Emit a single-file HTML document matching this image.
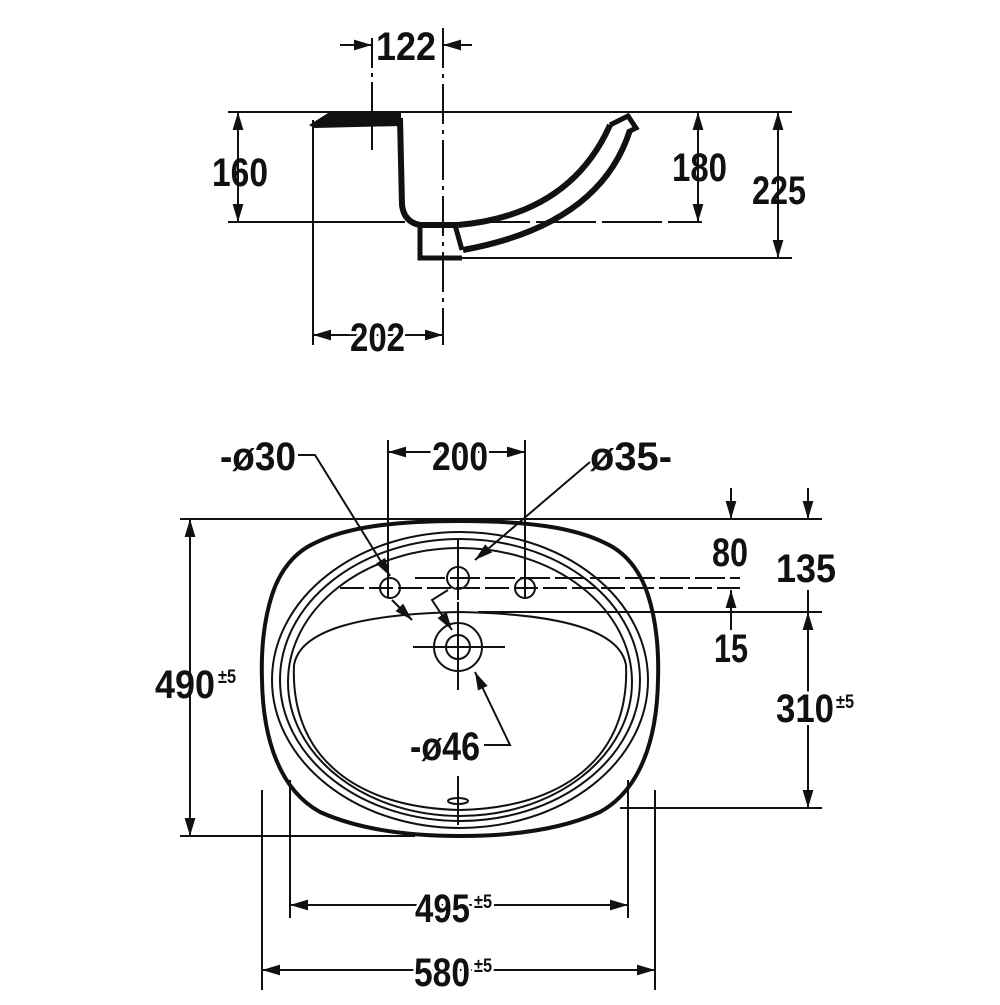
<!DOCTYPE html>
<html><head><meta charset="utf-8"><style>
html,body{margin:0;padding:0;background:#fff;}
text{font-family:"Liberation Sans",sans-serif;font-weight:bold;fill:#111;}
.w{stroke:#fff;stroke-width:6px;paint-order:stroke;}
</style></head><body>
<svg width="1000" height="1000" viewBox="0 0 1000 1000" xmlns="http://www.w3.org/2000/svg">
<defs>
<marker id="a" viewBox="0 0 10 10" refX="10" refY="5" markerWidth="18" markerHeight="18" markerUnits="userSpaceOnUse" orient="auto-start-reverse"><path d="M0,2 L10,5 L0,8 z" fill="#111"/></marker>
</defs>
<g stroke="#111" stroke-width="2" fill="none">
<line x1="228" y1="112" x2="792" y2="112"/>
<line x1="228" y1="222" x2="405" y2="222"/>
<line x1="470" y1="222" x2="702" y2="222" stroke-dasharray="60 6"/>
<line x1="430" y1="258" x2="792" y2="258"/>
<line x1="313" y1="120" x2="313" y2="345"/>
<line x1="443" y1="28" x2="443" y2="345" stroke-dasharray="40 6 4 6"/>
<line x1="372" y1="38" x2="372" y2="150" stroke-dasharray="30 5 4 5"/>
<line x1="340" y1="45" x2="372" y2="45" marker-end="url(#a)"/>
<line x1="472" y1="45" x2="443" y2="45" marker-end="url(#a)"/>
<line x1="238" y1="112" x2="238" y2="222" marker-start="url(#a)" marker-end="url(#a)"/>
<line x1="698" y1="112" x2="698" y2="222" marker-start="url(#a)" marker-end="url(#a)"/>
<line x1="778" y1="112" x2="778" y2="258" marker-start="url(#a)" marker-end="url(#a)"/>
<line x1="313" y1="335" x2="443" y2="335" marker-start="url(#a)" marker-end="url(#a)"/>
<path d="M311,125 L330,113 L400,113 L400,125 L315,127 z" fill="#111"/>
<path d="M400,118 L402,205 Q404,222 420,225 L458,225" stroke-width="6"/>
<path d="M420,226 L420,258 L462,258" stroke-width="5"/>
<path d="M458,225 Q570,215 610,125" stroke-width="6"/>
<path d="M463,250 Q600,225 630,130" stroke-width="6"/>
<path d="M610,125 L628,116 L636,128 L628,132" stroke-width="5"/>
<line x1="455" y1="225" x2="462" y2="250" stroke-width="5"/>
<line x1="180" y1="519" x2="822" y2="519"/>
<line x1="180" y1="836" x2="415" y2="836"/>
<line x1="478" y1="612" x2="822" y2="612"/>
<line x1="620" y1="808" x2="822" y2="808"/>
<line x1="340" y1="588" x2="740" y2="588" stroke-dasharray="24 5"/>
<line x1="415" y1="578" x2="740" y2="578" stroke-dasharray="30 5"/>
<line x1="388" y1="440" x2="388" y2="598"/>
<line x1="525" y1="440" x2="525" y2="598"/>
<line x1="262" y1="790" x2="262" y2="990"/>
<line x1="655" y1="790" x2="655" y2="990"/>
<line x1="290" y1="780" x2="290" y2="918"/>
<line x1="628" y1="780" x2="628" y2="918"/>
<line x1="388" y1="452" x2="525" y2="452" marker-start="url(#a)" marker-end="url(#a)"/>
<line x1="190" y1="519" x2="190" y2="836" marker-start="url(#a)" marker-end="url(#a)"/>
<line x1="731" y1="488" x2="731" y2="519" marker-end="url(#a)"/>
<line x1="731" y1="630" x2="731" y2="590" marker-end="url(#a)"/>
<line x1="808" y1="488" x2="808" y2="519" marker-end="url(#a)"/>
<line x1="808" y1="590" x2="808" y2="612"/>
<line x1="808" y1="612" x2="808" y2="808" marker-start="url(#a)" marker-end="url(#a)"/>
<line x1="290" y1="905" x2="628" y2="905" marker-start="url(#a)" marker-end="url(#a)"/>
<line x1="262" y1="970" x2="655" y2="970" marker-start="url(#a)" marker-end="url(#a)"/>
<path d="M460,521 C530,521 575,528 605,543 C625,552 640,570 648,595 C656,620 659,650 658,680 C657,740 640,790 600,812 C560,830 510,836 460,836 C410,836 360,830 320,812 C280,790 263,740 262,680 C261,650 264,620 272,595 C280,570 295,552 315,543 C345,528 390,521 460,521 z" stroke-width="4"/>
<ellipse cx="460" cy="680" rx="188" ry="148"/>
<ellipse cx="460" cy="680" rx="180" ry="141"/>
<ellipse cx="460" cy="682" rx="172" ry="134"/>
<path d="M294,665 C300,630 360,614 460,612 C560,614 620,630 626,665 C630,760 560,808 460,810 C360,808 290,760 294,665 z"/>
<circle cx="390" cy="588" r="10"/>
<circle cx="458" cy="578" r="11"/>
<circle cx="525" cy="588" r="10"/>
<circle cx="458" cy="647" r="24"/>
<circle cx="458" cy="647" r="12"/>
<line x1="413" y1="647" x2="505" y2="647"/><line x1="458" y1="602" x2="458" y2="690"/>
<line x1="458" y1="540" x2="458" y2="600"/>
<line x1="458" y1="776" x2="458" y2="825"/>
<ellipse cx="458" cy="801" rx="10" ry="3"/>
<polyline points="298,455 315,455 390,576" marker-end="url(#a)"/>
<line x1="392" y1="600" x2="412" y2="620" marker-end="url(#a)"/>
<line x1="590" y1="462" x2="475" y2="560" marker-end="url(#a)"/>
<polyline points="448,590 432,600 452,630" marker-end="url(#a)"/>
<polyline points="484,745 510,745 475,672" marker-end="url(#a)"/>
</g>
<g font-size="40">
<text class="w" x="376" y="60" textLength="60" lengthAdjust="spacingAndGlyphs">122</text>
<text x="212" y="186" textLength="56" lengthAdjust="spacingAndGlyphs">160</text>
<text x="672" y="181" textLength="55" lengthAdjust="spacingAndGlyphs">180</text>
<text x="752" y="204" textLength="54" lengthAdjust="spacingAndGlyphs">225</text>
<text class="w" x="350" y="351" textLength="55" lengthAdjust="spacingAndGlyphs">202</text>
<text x="220" y="470" textLength="76" lengthAdjust="spacingAndGlyphs">-ø30</text>
<text class="w" x="432" y="470" textLength="56" lengthAdjust="spacingAndGlyphs">200</text>
<text x="590" y="470" textLength="82" lengthAdjust="spacingAndGlyphs">ø35-</text>
<text x="712" y="566" textLength="36" lengthAdjust="spacingAndGlyphs">80</text>
<text class="w" x="776" y="582" textLength="60" lengthAdjust="spacingAndGlyphs">135</text>
<text x="714" y="662" textLength="34" lengthAdjust="spacingAndGlyphs">15</text>
<text class="w" x="776" y="722" textLength="58" lengthAdjust="spacingAndGlyphs">310</text>
<text x="155" y="698" textLength="60" lengthAdjust="spacingAndGlyphs">490</text>
<text x="410" y="760" textLength="70" lengthAdjust="spacingAndGlyphs">-ø46</text>
<text class="w" x="415" y="922" textLength="55" lengthAdjust="spacingAndGlyphs">495</text>
<text class="w" x="414" y="986" textLength="56" lengthAdjust="spacingAndGlyphs">580</text>
</g>
<g font-size="19">
<text x="836" y="708" textLength="18" lengthAdjust="spacingAndGlyphs">±5</text>
<text x="218" y="683" textLength="18" lengthAdjust="spacingAndGlyphs">±5</text>
<text class="w" x="474" y="908" textLength="18" lengthAdjust="spacingAndGlyphs">±5</text>
<text class="w" x="474" y="972" textLength="18" lengthAdjust="spacingAndGlyphs">±5</text>
</g>
</svg>
</body></html>
